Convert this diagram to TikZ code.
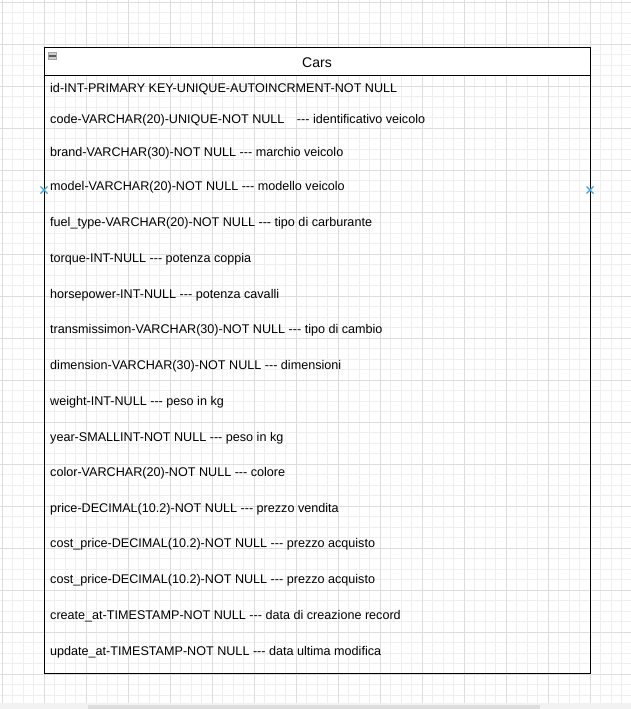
\documentclass[tikz,border=0pt]{standalone}
\usepackage{fontspec}
\setmainfont{Liberation Sans}
\definecolor{minorgrid}{HTML}{EFEFEF}
\definecolor{majorgrid}{HTML}{DDDDDD}
\definecolor{markblue}{HTML}{3AA6DD}
\newcommand{\tdash}{-{}-{}-}
\tikzset{
  minorline/.style={draw=minorgrid, line width=0.8pt},
  majorline/.style={draw=majorgrid, line width=0.9pt},
  rowtext/.style={anchor=west, inner sep=0pt, font=\fontsize{12.6}{14}\selectfont},
  tablebox/.style={draw=black, line width=1.3pt},
  xmark/.style={draw=markblue, line width=1.3pt}
}
\begin{document}
\begin{tikzpicture}[x=1pt,y=-1pt]
\useasboundingbox (0,0) rectangle (631,709);
\fill[white] (0,0) rectangle (631,709);
% grid
\foreach \i in {0,...,60} {
  \draw[minorline] ({2+10.5*\i},0) -- ({2+10.5*\i},703);
}
\foreach \i in {0,...,67} {
  \draw[minorline] (0,{2+10.5*\i}) -- (631,{2+10.5*\i});
}
\foreach \i in {0,...,15} {
  \draw[majorline] ({2+42*\i},0) -- ({2+42*\i},703);
}
\foreach \i in {0,...,16} {
  \draw[majorline] (0,{2+42*\i}) -- (631,{2+42*\i});
}
% scroll bar strip
\fill[white!95!black] (0,703) rectangle (631,709);
\fill[white!87!black] (88,705) rectangle (540,709);
% table
\node[tablebox, fill=white, minimum width=546pt, minimum height=28pt, inner sep=0pt, anchor=north west] (header) at (44,47) {};
\node[font=\fontsize{14}{16}\selectfont, inner sep=0pt] (title) at (317,62.5) {Cars};
\node[tablebox, minimum width=546pt, minimum height=626pt, inner sep=0pt, anchor=north west] (table) at (44,47) {};
\node[draw=gray!70, fill=gray!40, minimum width=8pt, minimum height=7pt, inner sep=0pt, line width=0.6pt] (collapse) at (52.5,56) {};
\draw[black!65, line width=1.3pt] ([xshift=1pt]collapse.west) -- ([xshift=-1pt]collapse.east);
% rows
\node[rowtext] (r1) at (50,89) {id-INT-PRIMARY KEY-UNIQUE-AUTOINCRMENT-NOT NULL};
\node[rowtext] (r2) at (50,120) {code-VARCHAR(20)-UNIQUE-NOT NULL\hspace{9pt} \tdash{} identificativo veicolo};
\node[rowtext] (r3) at (50,153) {brand-VARCHAR(30)-NOT NULL \tdash{} marchio veicolo};
\node[rowtext] (r4) at (50,187) {model-VARCHAR(20)-NOT NULL \tdash{} modello veicolo};
\node[rowtext] (r5) at (50,223) {fuel\_type-VARCHAR(20)-NOT NULL \tdash{} tipo di carburante};
\node[rowtext] (r6) at (50,259) {torque-INT-NULL \tdash{} potenza coppia};
\node[rowtext] (r7) at (50,295) {horsepower-INT-NULL \tdash{} potenza cavalli};
\node[rowtext] (r8) at (50,330) {transmissimon-VARCHAR(30)-NOT NULL \tdash{} tipo di cambio};
\node[rowtext] (r9) at (50,366) {dimension-VARCHAR(30)-NOT NULL \tdash{} dimensioni};
\node[rowtext] (r10) at (50,402) {weight-INT-NULL \tdash{} peso in kg};
\node[rowtext] (r11) at (50,438) {year-SMALLINT-NOT NULL \tdash{} peso in kg};
\node[rowtext] (r12) at (50,473) {color-VARCHAR(20)-NOT NULL \tdash{} colore};
\node[rowtext] (r13) at (50,509) {price-DECIMAL(10.2)-NOT NULL \tdash{} prezzo vendita};
\node[rowtext] (r14) at (50,544) {cost\_price-DECIMAL(10.2)-NOT NULL \tdash{} prezzo acquisto};
\node[rowtext] (r15) at (50,580) {cost\_price-DECIMAL(10.2)-NOT NULL \tdash{} prezzo acquisto};
\node[rowtext] (r16) at (50,616) {create\_at-TIMESTAMP-NOT NULL \tdash{} data di creazione record};
\node[rowtext] (r17) at (50,652) {update\_at-TIMESTAMP-NOT NULL \tdash{} data ultima modifica};
% connection markers
\coordinate (cl) at (44,190);
\coordinate (cr) at (590,190);
\draw[xmark] ([shift={(-3.5,-3.5)}]cl) -- ([shift={(3.5,3.5)}]cl) ([shift={(-3.5,3.5)}]cl) -- ([shift={(3.5,-3.5)}]cl);
\draw[xmark] ([shift={(-3.5,-3.5)}]cr) -- ([shift={(3.5,3.5)}]cr) ([shift={(-3.5,3.5)}]cr) -- ([shift={(3.5,-3.5)}]cr);
\end{tikzpicture}
\end{document}
